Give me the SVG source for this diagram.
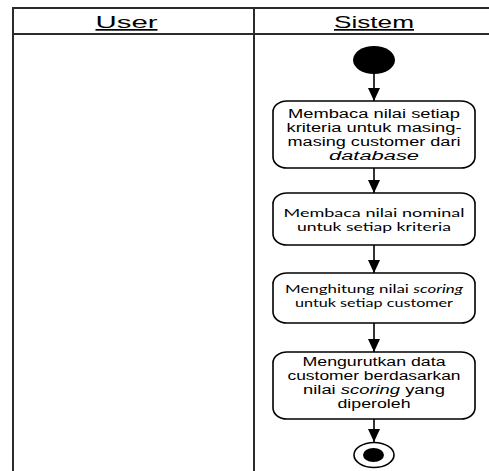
<svg xmlns="http://www.w3.org/2000/svg" width="489" height="471" viewBox="0 0 489 471">
<style>
.tbl{stroke:#2b2b2b;stroke-width:2;fill:none}
.hdr{font-family:"Liberation Sans",Arial,sans-serif;font-size:17px;text-anchor:middle;text-decoration:underline;fill:#000}
.box{fill:#fff;stroke:#000;stroke-width:1.6}
.ta{font-family:"Liberation Sans",Arial,sans-serif;font-size:12px;text-anchor:middle;fill:#000}
.tc{font-family:Lato,"Liberation Sans",sans-serif;font-size:12px;text-anchor:middle;fill:#000}
.it{font-style:italic}
.edge{stroke:#000;stroke-width:1.6;fill:none;marker-end:url(#arr)}
</style>
<defs>
<marker id="arr" markerUnits="userSpaceOnUse" markerWidth="14" markerHeight="12" refX="13" refY="6" orient="auto">
<path d="M0,0 L13,6 L0,12 Z" fill="#000"/>
</marker>
</defs>
<g id="swimlanes">
<line class="tbl" x1="13" y1="8" x2="489" y2="8"/>
<line class="tbl" x1="13" y1="34" x2="489" y2="34"/>
<line class="tbl" x1="13" y1="7" x2="13" y2="471"/>
<line class="tbl" x1="254" y1="7" x2="254" y2="471"/>
<text class="hdr" x="126.5" y="28" textLength="62" lengthAdjust="spacingAndGlyphs">User</text>
<text class="hdr" x="374" y="28" textLength="80" lengthAdjust="spacingAndGlyphs">Sistem</text>
</g>
<g id="connectors">
<line class="edge" x1="374" y1="73" x2="374" y2="101"/>
<line class="edge" x1="374" y1="168" x2="374" y2="193"/>
<line class="edge" x1="374" y1="245" x2="374" y2="273"/>
<line class="edge" x1="374" y1="323" x2="374" y2="352"/>
<line class="edge" x1="374" y1="419" x2="374" y2="442"/>
</g>
<g id="start">
<ellipse cx="374" cy="60" rx="21" ry="14" fill="#000"/>
</g>
<g id="a1">
<rect class="box" x="273" y="101" width="202" height="67" rx="14" ry="11"/>
<text class="ta" x="374" y="118" textLength="172" lengthAdjust="spacingAndGlyphs">Membaca nilai setiap</text>
<text class="ta" x="374" y="132" textLength="175" lengthAdjust="spacingAndGlyphs">kriteria untuk masing-</text>
<text class="ta" x="374" y="146" textLength="173" lengthAdjust="spacingAndGlyphs">masing customer dari</text>
<text class="ta it" x="374" y="160" textLength="90" lengthAdjust="spacingAndGlyphs">database</text>
</g>
<g id="a2">
<rect class="box" x="273" y="193" width="202" height="52" rx="14" ry="11"/>
<text class="tc" x="374" y="217" textLength="181" lengthAdjust="spacingAndGlyphs">Membaca nilai nominal</text>
<text class="tc" x="374" y="231" textLength="154" lengthAdjust="spacingAndGlyphs">untuk setiap kriteria</text>
</g>
<g id="a3">
<rect class="box" x="273" y="273" width="202" height="50" rx="14" ry="11"/>
<text class="tc" x="374" y="293" textLength="178" lengthAdjust="spacingAndGlyphs">Menghitung nilai <tspan class="it">scoring</tspan></text>
<text class="tc" x="374" y="307" textLength="158" lengthAdjust="spacingAndGlyphs">untuk setiap customer</text>
</g>
<g id="a4">
<rect class="box" x="273" y="352" width="202" height="67" rx="14" ry="11"/>
<text class="ta" x="374" y="366" textLength="143" lengthAdjust="spacingAndGlyphs">Mengurutkan data</text>
<text class="ta" x="374" y="380" textLength="173" lengthAdjust="spacingAndGlyphs">customer berdasarkan</text>
<text class="ta" x="374" y="394" textLength="142" lengthAdjust="spacingAndGlyphs">nilai <tspan class="it">scoring</tspan> yang</text>
<text class="ta" x="374" y="408" textLength="73" lengthAdjust="spacingAndGlyphs">diperoleh</text>
</g>
<g id="end">
<ellipse cx="374" cy="455" rx="20" ry="12.5" fill="#fff" stroke="#000" stroke-width="1.6"/>
<ellipse cx="373.5" cy="455" rx="10.5" ry="7" fill="#000"/>
</g>
</svg>
